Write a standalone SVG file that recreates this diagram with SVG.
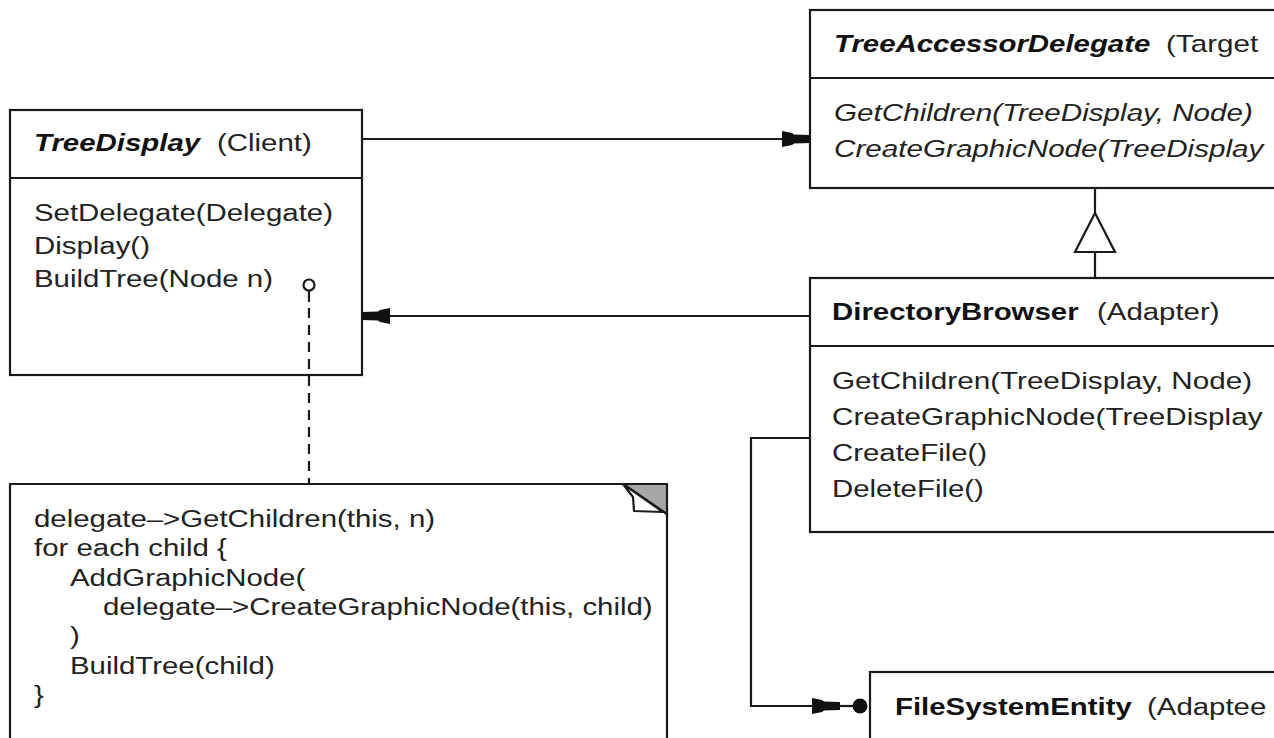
<svg xmlns="http://www.w3.org/2000/svg" width="1274" height="738" viewBox="0 0 1274 738">
<style>
  .box{fill:#fff;stroke:#1a1a1a;stroke-width:2.2}
  .ln{fill:none;stroke:#1a1a1a;stroke-width:2.2}
  text{font-family:"Liberation Sans",Arial,sans-serif;font-size:24.5px;fill:#222}
  .b{font-weight:bold;fill:#111}
  .bi{font-weight:bold;font-style:italic;fill:#111}
  .i{font-style:italic}
</style>
<defs>
  <marker id="ah" viewBox="0 0 28 18" refX="28" refY="9" markerWidth="28" markerHeight="18" markerUnits="userSpaceOnUse" orient="auto">
    <polygon points="0,1 10,3 12,4.5 28,5 28,13 12,13.5 10,15 0,17" fill="#111"/>
  </marker>
</defs>
<rect width="1274" height="738" fill="#fff"/>

<g id="TreeDisplay">
  <rect class="box" x="10" y="110" width="352" height="265"/>
  <line class="ln" x1="10" y1="178" x2="362" y2="178"/>
  <text class="bi" transform="translate(34,151) scale(1.2,1)">TreeDisplay</text>
  <text transform="translate(217,151) scale(1.2,1)">(Client)</text>
  <text transform="translate(34,221) scale(1.2,1)">SetDelegate(Delegate)</text>
  <text transform="translate(34,254) scale(1.2,1)">Display()</text>
  <text transform="translate(34,287) scale(1.2,1)">BuildTree(Node n)</text>
</g>

<g id="TreeAccessorDelegate">
  <rect class="box" x="810" y="10" width="480" height="178"/>
  <line class="ln" x1="810" y1="78" x2="1290" y2="78"/>
  <text class="bi" transform="translate(834,52) scale(1.2,1)">TreeAccessorDelegate</text>
  <text transform="translate(1166,52) scale(1.21,1)">(Target</text>
  <text class="i" transform="translate(834,121) scale(1.21,1)">GetChildren(TreeDisplay, Node)</text>
  <text class="i" transform="translate(834,157) scale(1.21,1)">CreateGraphicNode(TreeDisplay</text>
</g>

<g id="DirectoryBrowser">
  <rect class="box" x="810" y="278" width="480" height="254"/>
  <line class="ln" x1="810" y1="346" x2="1290" y2="346"/>
  <text class="b" transform="translate(832,320) scale(1.2,1)">DirectoryBrowser</text>
  <text transform="translate(1097,320) scale(1.2,1)">(Adapter)</text>
  <text transform="translate(832,389) scale(1.21,1)">GetChildren(TreeDisplay, Node)</text>
  <text transform="translate(832,425) scale(1.21,1)">CreateGraphicNode(TreeDisplay</text>
  <text transform="translate(832,461) scale(1.2,1)">CreateFile()</text>
  <text transform="translate(832,497) scale(1.2,1)">DeleteFile()</text>
</g>

<g id="FileSystemEntity">
  <rect class="box" x="870" y="672" width="420" height="80"/>
  <text class="b" transform="translate(895,715) scale(1.2,1)">FileSystemEntity</text>
  <text transform="translate(1147,715) scale(1.2,1)">(Adaptee</text>
</g>

<g id="note">
  <polygon points="10,484 623,484 667,514 667,750 10,750" fill="#fff" stroke="#1a1a1a" stroke-width="2.2"/>
  <polygon points="623,484 667,484 667,514" fill="#a6a6a6" stroke="#1a1a1a" stroke-width="2.2"/>
  <polygon points="623,484 633,497 634,511 663,512" fill="#fff" stroke="#1a1a1a" stroke-width="2.2" stroke-linejoin="round"/>
  <text transform="translate(34,527) scale(1.2,1)">delegate–&gt;GetChildren(this, n)</text>
  <text transform="translate(34,556) scale(1.2,1)">for each child {</text>
  <text transform="translate(70,586) scale(1.2,1)">AddGraphicNode(</text>
  <text transform="translate(103,615) scale(1.2,1)">delegate–&gt;CreateGraphicNode(this, child)</text>
  <text transform="translate(70,644) scale(1.2,1)">)</text>
  <text transform="translate(70,674) scale(1.2,1)">BuildTree(child)</text>
  <text transform="translate(34,703) scale(1.2,1)">}</text>
</g>

<g id="connectors">
  <line class="ln" x1="362" y1="139" x2="810" y2="139" marker-end="url(#ah)"/>
  <line class="ln" x1="810" y1="316" x2="362" y2="316" marker-end="url(#ah)"/>
  <line class="ln" x1="1095" y1="188" x2="1095" y2="213"/>
  <polygon points="1095,213 1075,252 1115,252" fill="#fff" stroke="#1a1a1a" stroke-width="2.2"/>
  <line class="ln" x1="1095" y1="252" x2="1095" y2="278"/>
  <polyline class="ln" points="810,438 751,438 751,706 840,706" marker-end="url(#ah)"/>
  <line class="ln" x1="840" y1="706" x2="860" y2="706"/>
  <circle cx="860" cy="706" r="7.5" fill="#111"/>
  <circle cx="309" cy="285" r="5.5" fill="#fff" stroke="#1a1a1a" stroke-width="2.2"/>
  <line class="ln" x1="309" y1="291" x2="309" y2="302"/>
  <line class="ln" x1="309" y1="308" x2="309" y2="484" stroke-dasharray="10,7"/>
</g>
</svg>
